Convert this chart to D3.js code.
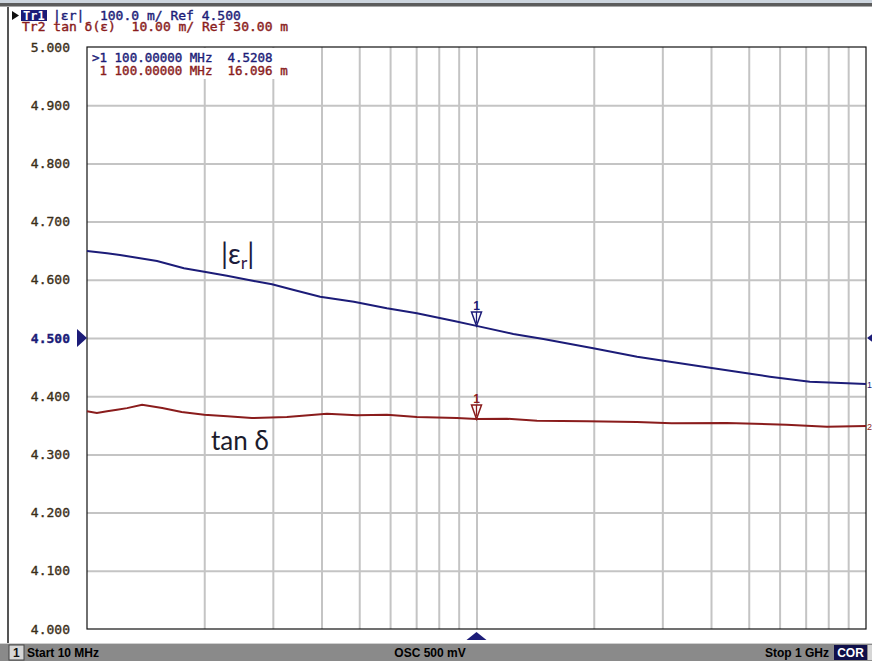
<!DOCTYPE html>
<html><head><meta charset="utf-8">
<script src="https://cdn.jsdelivr.net/npm/d3@7"></script>
<style>
html,body{margin:0;padding:0;background:#fff;}
svg{display:block;}
</style></head>
<body>
<svg id="c" width="872" height="661"></svg>
<script>
// ---- data ----
const xDomain = [10, 1000];            // MHz, log axis
const yTicks = [4.0,4.1,4.2,4.3,4.4,4.5,4.6,4.7,4.8,4.9,5.0];
const xGrid = [20,30,40,50,60,70,80,90,100,200,300,400,500,600,700,800,900];
// |eps_r| trace (freq MHz, value)
const erFreq = [10,11.26,12.15,13.44,15.13,17.74,20,22.87,26.83,29.85,33.97,39.68,48.43,58.86,70.3,87.6,100,124.3,148.5,199.4,258.4,314,397.6,494.7,566.4,717.5,1000];
const erVal  = [4.6495,4.6455,4.6426,4.638,4.6323,4.6198,4.6139,4.607,4.5979,4.5923,4.5825,4.571,4.5624,4.551,4.5424,4.5292,4.5208,4.5069,4.4983,4.4823,4.4679,4.4593,4.449,4.4393,4.4335,4.4249,4.421];
// tan delta trace (freq MHz, value in milli-units)
const tdFreq = [10,10.6,11.26,11.94,12.67,13.85,15.6,17.5,20,22.9,26.5,32.6,41.3,49.3,58.9,70.3,89,100,119.8,143,192,258,317,439,625,794,1000];
const tdVal  = [17.41,17.11,17.41,17.68,17.95,18.54,17.97,17.29,16.82,16.55,16.25,16.43,16.99,16.72,16.82,16.43,16.25,16.096,16.13,15.79,15.69,15.57,15.34,15.40,15.10,14.76,14.88];
const tdRef = 30, tdPerDiv = 10, erRef = 4.5, erPerDiv = 0.1;
const markerFreq = 100;
const header1 = "|\u03b5r|  100.0 m/ Ref 4.500";
const header2 = "Tr2 tan \u03b4(\u03b5)  10.00 m/ Ref 30.00 m";
const mark1 = ">1 100.00000 MHz  4.5208";
const mark2 = " 1 100.00000 MHz  16.096 m";

// ---- drawing ----
const svg = d3.select("#c");
const L=87, R=866, T=47, B=629;
const x = d3.scaleLog().domain(xDomain).range([L,R]);
const y = d3.scaleLinear().domain([4,5]).range([B,T]);
const tdToY = t => y(erRef + (t - tdRef)/tdPerDiv*erPerDiv);
const navy = "#1c1c78", dred = "#8a1c1c";
const mono = "'DejaVu Sans Mono', monospace";
const sans = "'Liberation Sans', Arial, sans-serif";

// window frame
svg.append("rect").attr("x",0).attr("y",0).attr("width",872).attr("height",3).attr("fill","#cdd5de");
svg.append("rect").attr("x",0).attr("y",3).attr("width",872).attr("height",3).attr("fill","#5c5c5c");
svg.append("rect").attr("x",0).attr("y",6).attr("width",872).attr("height",1).attr("fill","#a8a8a8");
svg.append("rect").attr("x",7).attr("y",7).attr("width",2).attr("height",637).attr("fill","#555");

// grid
svg.append("g").attr("transform",`translate(0,${B})`)
  .call(d3.axisBottom(x).tickValues(xGrid).tickSize(-(B-T)).tickFormat(""))
  .call(g=>{g.select(".domain").remove(); g.selectAll("line").attr("stroke","#c4c4c4").attr("stroke-width",2);});
svg.append("g").attr("transform",`translate(${L},0)`)
  .call(d3.axisLeft(y).tickValues(yTicks.slice(1,-1)).tickSize(-(R-L)).tickFormat(""))
  .call(g=>{g.select(".domain").remove(); g.selectAll("line").attr("stroke","#c4c4c4").attr("stroke-width",2);});

// y labels
svg.append("g").attr("transform",`translate(${L-14},0)`)
  .call(d3.axisLeft(y).tickValues(yTicks).tickSize(0).tickFormat(d3.format(".3f")))
  .call(g=>{g.select(".domain").remove();
    g.selectAll("text").attr("font-family",mono).attr("font-size",13)
     .attr("fill",d=>Math.abs(d-4.5)<1e-9?navy:"#3a2e18")
     .attr("stroke",d=>Math.abs(d-4.5)<1e-9?navy:"#3a2e18").attr("stroke-width",0.35)
     .attr("font-weight",d=>Math.abs(d-4.5)<1e-9?"bold":"normal");});

// plot border
svg.append("rect").attr("x",L).attr("y",T).attr("width",R-L).attr("height",B-T)
  .attr("fill","none").attr("stroke","#111").attr("stroke-width",1.2);

// marker readout text (white bg)
svg.append("rect").attr("x",L+1).attr("y",T+1).attr("width",206).attr("height",31).attr("fill","#fff");
svg.append("text").attr("x",92).attr("y",62).attr("font-family",mono).attr("font-size",12.5).attr("fill",navy).attr("stroke",navy).attr("stroke-width",0.4).style("white-space","pre").text(mark1);
svg.append("text").attr("x",92).attr("y",75).attr("font-family",mono).attr("font-size",12.5).attr("fill",dred).attr("stroke",dred).attr("stroke-width",0.4).style("white-space","pre").text(mark2);

// traces
const erData = erFreq.map((f,i)=>[f,erVal[i]]);
const tdData = tdFreq.map((f,i)=>[f,tdVal[i]]);
svg.append("path").datum(erData)
  .attr("d",d3.line().x(d=>x(d[0])).y(d=>y(d[1])))
  .attr("fill","none").attr("stroke",navy).attr("stroke-width",2);
svg.append("path").datum(tdData)
  .attr("d",d3.line().x(d=>x(d[0])).y(d=>tdToY(d[1])))
  .attr("fill","none").attr("stroke",dred).attr("stroke-width",2);

// markers on traces
function marker(px,py,col){
  const g=svg.append("g");
  g.append("path").attr("d",`M${px-5},${py-14}L${px+5},${py-14}L${px},${py}Z`).attr("fill","#fff").attr("stroke",col).attr("stroke-width",1.5);
  g.append("line").attr("x1",px).attr("x2",px).attr("y1",py-14).attr("y2",py-3).attr("stroke",col).attr("stroke-width",1.3);
  g.append("text").attr("x",px).attr("y",py-16).attr("text-anchor","middle").attr("font-family",sans).attr("font-weight","bold").attr("font-size",12).attr("fill",col).text("1");
}
const mEr = erVal[erFreq.indexOf(markerFreq)], mTd = tdVal[tdFreq.indexOf(markerFreq)];
marker(x(markerFreq), y(mEr), navy);
marker(x(markerFreq), tdToY(mTd), dred);

// reference arrows
svg.append("path").attr("d",`M${L-10},${y(4.5)-9}L${L},${y(4.5)}L${L-10},${y(4.5)+9}Z`).attr("fill",navy);
svg.append("path").attr("d",`M${R+1},${y(4.5)}L${R+9},${y(4.5)-6}L${R+9},${y(4.5)+6}Z`).attr("fill",navy);
svg.append("path").attr("d",`M${x(markerFreq)},${B+3}L${x(markerFreq)+10},${B+11}L${x(markerFreq)-10},${B+11}Z`).attr("fill",navy);

// trace end labels
svg.append("text").attr("x",R+1).attr("y",y(erVal[erVal.length-1])+4).attr("font-family",sans).attr("font-size",9).attr("fill",navy).text("1");
svg.append("text").attr("x",R+1).attr("y",tdToY(tdVal[tdVal.length-1])+4).attr("font-family",sans).attr("font-size",9).attr("fill",dred).text("2");

// header
svg.append("path").attr("d","M12,11L19,15.5L12,20Z").attr("fill","#111");
svg.append("rect").attr("x",21).attr("y",10).attr("width",26).attr("height",11).attr("fill",navy);
svg.append("text").attr("x",23).attr("y",19.5).attr("font-family",mono).attr("font-size",12).attr("font-weight","bold").attr("fill","#fff").text("Tr1");
svg.append("text").attr("x",53).attr("y",20).attr("font-family",mono).attr("font-size",13).attr("fill",navy).attr("stroke",navy).attr("stroke-width",0.4).style("white-space","pre").text(header1);
svg.append("text").attr("x",22).attr("y",31).attr("font-family",mono).attr("font-size",13).attr("fill",dred).attr("stroke",dred).attr("stroke-width",0.4).style("white-space","pre").text(header2);

// annotations
const ann = svg.append("text").attr("x",221).attr("y",264).attr("font-family","Lato, 'Open Sans', sans-serif").attr("font-size",28).attr("fill","#1c1c3c");
ann.append("tspan").text("|\u03b5");
ann.append("tspan").attr("dy",5).attr("font-size",18).attr("fill","#3a1a4a").text("r");
ann.append("tspan").attr("dy",-5).text("|");
svg.append("text").attr("x",211).attr("y",450).attr("font-family","Lato, 'Open Sans', sans-serif").attr("font-size",26).attr("fill","#1c1c2c").text("tan \u03b4");

// status bar
svg.append("rect").attr("x",0).attr("y",643).attr("width",872).attr("height",18).attr("fill","#8a8a8a");
svg.append("rect").attr("x",0).attr("y",643).attr("width",872).attr("height",1).attr("fill","#d0d0d0");
svg.append("rect").attr("x",9).attr("y",645).attr("width",15).attr("height",15).attr("fill","#d6d6d6").attr("stroke","#444").attr("stroke-width",1);
svg.append("text").attr("x",13).attr("y",657).attr("font-family",sans).attr("font-size",12).attr("font-weight","bold").attr("fill","#111").text("1");
svg.append("text").attr("x",27).attr("y",657).attr("font-family",sans).attr("font-size",12).attr("font-weight","bold").attr("fill","#000").text("Start 10 MHz");
svg.append("text").attr("x",430).attr("y",657).attr("text-anchor","middle").attr("font-family",sans).attr("font-size",12).attr("font-weight","bold").attr("fill","#000").text("OSC 500 mV");
svg.append("text").attr("x",829).attr("y",657).attr("text-anchor","end").attr("font-family",sans).attr("font-size",12).attr("font-weight","bold").attr("fill","#000").text("Stop 1 GHz");
svg.append("rect").attr("x",834).attr("y",645).attr("width",33).attr("height",15).attr("fill","#10104a");
svg.append("text").attr("x",850.5).attr("y",657).attr("text-anchor","middle").attr("font-family",sans).attr("font-size",12).attr("font-weight","bold").attr("fill","#fff").text("COR");
svg.append("rect").attr("x",868).attr("y",645).attr("width",4).attr("height",15).attr("fill","#d6d6d6");
</script>
</body></html>
